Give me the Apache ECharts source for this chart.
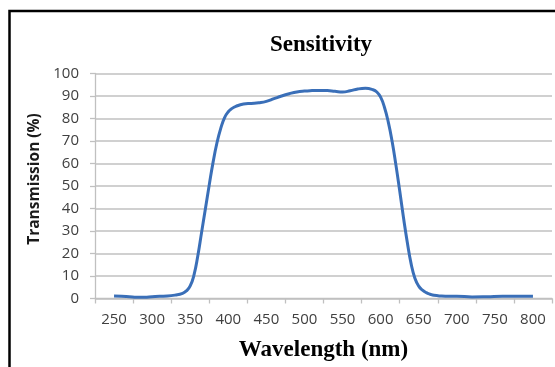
<!DOCTYPE html>
<html>
<head>
<meta charset="utf-8">
<script src="https://cdn.jsdelivr.net/npm/echarts@6/dist/echarts.min.js"></script>
<style>
  html, body { margin: 0; padding: 0; background: #fff; }
  #chart { width: 555px; height: 367px; }
</style>
</head>
<body>
<div id="chart"></div>
<script>
// tick labels shown under the x axis
const wavelengthLabels = ["250", "300", "350", "400", "450", "500", "550", "600", "650", "700", "750", "800"];

// curve (nm, %)
const wavelengths = [250, 260, 270, 280, 290, 300, 310, 320, 330, 340, 345, 350, 355, 360, 365, 370, 375, 380, 385, 390,
  395, 400, 405, 410, 420, 430, 440, 450, 460, 470, 480, 490, 500, 510, 520, 530, 540, 550, 560, 570,
  580, 590, 595, 600, 605, 610, 615, 620, 625, 630, 635, 640, 645, 650, 655, 660, 665, 670, 680, 690,
  700, 720, 740, 760, 780, 800];
const transmission = [1.1, 1.0, 0.8, 0.6, 0.6, 0.8, 1.0, 1.1, 1.5, 2.3, 3.4, 5.6, 10.5, 19, 29.5, 40, 50.5, 60.5, 69, 75.5,
  80.3, 83, 84.5, 85.4, 86.4, 86.7, 87.0, 87.6, 88.8, 90.0, 91.0, 91.8, 92.2, 92.4, 92.5, 92.4, 92.1, 91.8, 92.3, 93.1,
  93.4, 92.8, 91.8, 89.5, 85, 78.5, 70, 59.5, 48, 36, 25, 15.5, 9, 5.5, 3.7, 2.6, 1.9, 1.4, 1.1, 1.0,
  1.0, 0.7, 0.8, 1.0, 1.0, 1.0];

const gridColor = "#c0c0c0";
const labelColor = "#404040";

const chart = echarts.init(document.getElementById("chart"));
chart.setOption({
  animation: false,
  backgroundColor: "#ffffff",
  title: {
    text: "Sensitivity",
    left: 316,
    top: 29,
    textAlign: "center",
    textStyle: { fontFamily: "Liberation Serif", fontWeight: "bold", fontSize: 23, color: "#000" },
  },
  graphic: [
    {
      type: "rect",
      shape: { x: 9.5, y: 11, width: 620, height: 420 },
      style: { fill: "none", stroke: "#000", lineWidth: 2.5 },
      silent: true,
    },
  ],
  grid: { left: 95, right: 3, top: 73.5, bottom: 68.5 },
  xAxis: [
    {
      type: "category",
      data: wavelengthLabels,
      boundaryGap: true,
      name: "Wavelength (nm)",
      nameLocation: "middle",
      nameGap: 40,
      nameTextStyle: { fontFamily: "Liberation Serif", fontWeight: "bold", fontSize: 23, color: "#000" },
      axisLine: { lineStyle: { color: gridColor, width: 1.3 } },
      axisTick: { show: true, interval: 0, length: 5, lineStyle: { color: gridColor, width: 1.3 } },
      axisLabel: { interval: 0, margin: 14, color: labelColor, fontFamily: "Open Sans", fontSize: 15 },
      splitLine: { show: false },
    },
    {
      type: "value",
      min: 225,
      max: 825,
      show: false,
    },
  ],
  yAxis: {
    type: "value",
    min: 0,
    max: 100,
    interval: 10,
    name: "Transmission (%)",
    nameLocation: "middle",
    nameGap: 49,
    nameTextStyle: {
      fontFamily: "Open Sans", fontWeight: "bold", fontSize: 15.5, color: "#1a1a1a",
      padding: [0, 0, 0, 14],
    },
    axisLine: { show: true, lineStyle: { color: gridColor, width: 1.3 } },
    axisTick: { show: true, length: 5, lineStyle: { color: gridColor, width: 1.3 } },
    axisLabel: { margin: 16, color: labelColor, fontFamily: "Open Sans", fontSize: 15 },
    splitLine: { lineStyle: { color: gridColor, width: 1.5 } },
  },
  series: [
    {
      type: "line",
      xAxisIndex: 1,
      data: wavelengths.map((w, i) => [w, transmission[i]]),
      smooth: 0.5,
      showSymbol: false,
      lineStyle: { color: "#3a6fb8", width: 3 },
    },
  ],
});
</script>
</body>
</html>
